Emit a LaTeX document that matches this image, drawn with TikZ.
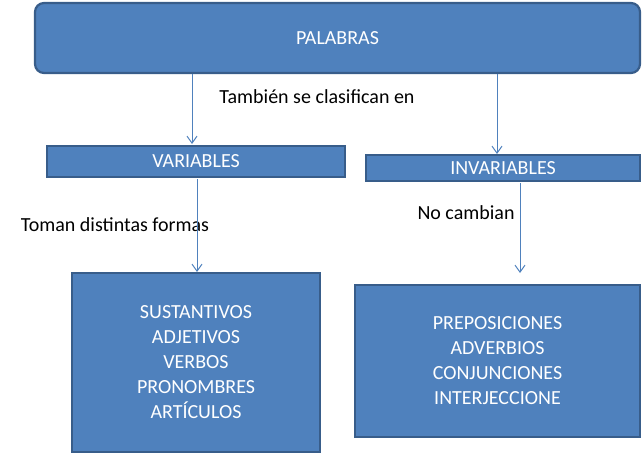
\documentclass[tikz,border=0pt]{standalone}
\usepackage{fontspec}
\setmainfont{Carlito}
\usetikzlibrary{arrows.meta}
\definecolor{boxfill}{HTML}{4F81BD}
\definecolor{boxline}{HTML}{385D8A}
\tikzset{
  box/.style={draw=boxline, fill=boxfill, line width=2.2pt, text=white, font=\fontsize{20}{25}\selectfont, align=center, inner sep=0pt},
  conn/.style={draw=boxfill, line width=1pt, -{Straight Barb[length=7pt,width=10pt]}},
  lbl/.style={font=\fontsize{20}{24}\selectfont, text=black}
}
\begin{document}
\begin{tikzpicture}[x=1pt,y=-1pt]
\useasboundingbox (0,0) rectangle (642,455);
\node[box, rounded corners=9pt, minimum width=605pt, minimum height=70pt] (pal) at (337.5,38) {PALABRAS};
\node[box, minimum width=298pt, minimum height=31pt] (var) at (196,161.5) {VARIABLES};
\node[box, minimum width=274pt, minimum height=26pt] (inv) at (503,168) {INVARIABLES};
\node[box, minimum width=248pt, minimum height=179pt, font=\fontsize{20}{25}\selectfont] (lb) at (196,362.5) {SUSTANTIVOS\\ADJETIVOS\\VERBOS\\PRONOMBRES\\ARTÍCULOS};
\node[box, minimum width=285pt, minimum height=152pt, font=\fontsize{20}{25}\selectfont] (rb) at (497.5,361) {PREPOSICIONES\\ADVERBIOS\\CONJUNCIONES\\INTERJECCIONE};
\node[lbl] (t1) at (317,97) {También se clasifican en};
\node[lbl] (t2) at (115,225) {Toman distintas formas};
\node[lbl] (t3) at (466,213) {No cambian};
\coordinate (a1) at (192,74); \coordinate (a2) at (192,144);
\coordinate (b1) at (497,74); \coordinate (b2) at (497,154);
\coordinate (c1) at (197,179); \coordinate (c2) at (197,272);
\coordinate (d1) at (520,183); \coordinate (d2) at (520,273);
\draw[conn] (a1) -- (a2);
\draw[conn] (b1) -- (b2);
\draw[conn] (c1) -- (c2);
\draw[conn] (d1) -- (d2);
\end{tikzpicture}
\end{document}
